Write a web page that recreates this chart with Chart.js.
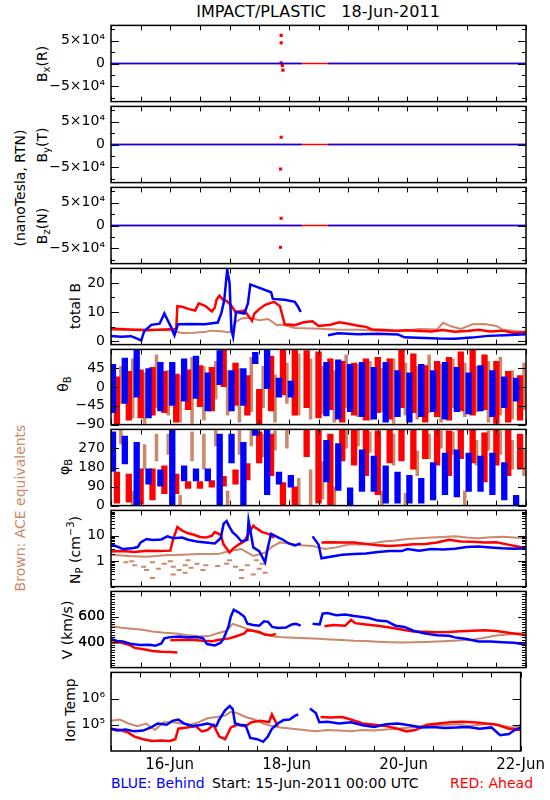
<!DOCTYPE html>
<html>
<head>
<meta charset="utf-8">
<script src="https://cdn.jsdelivr.net/npm/chart.js@4/dist/chart.umd.min.js"></script>
<style>
  body { margin: 0; background: #fff; }
  #page { position: relative; width: 550px; height: 800px; overflow: hidden; font-family: "DejaVu Sans", sans-serif; color: #000; }
  #page canvas { position: absolute; left: 0; }
  .txt { position: absolute; white-space: pre; font-size: 14px; line-height: 1; }
  .rot { position: absolute; white-space: pre; font-size: 14px; line-height: 1; transform: translate(-50%, -50%) rotate(-90deg); }
  sub, sup { font-size: 10px; line-height: 0; }
  sub { vertical-align: -3px; }
  sup { vertical-align: 6px; }
</style>
</head>
<body>
<div id="page">
  <div class="txt" style="left:318px; top:12px; font-size:16px; transform:translate(-50%,-50%)">IMPACT/PLASTIC   18-Jun-2011</div>
  <div class="rot" style="left:42px; top:64px">B<sub>x</sub>(R)</div>
  <div class="rot" style="left:42px; top:145px">B<sub>y</sub>(T)</div>
  <div class="rot" style="left:42px; top:226px">B<sub>z</sub>(N)</div>
  <div class="rot" style="left:20px; top:188px">(nanoTesla, RTN)</div>
  <div class="rot" style="left:75px; top:306px">total B</div>
  <div class="rot" style="left:63px; top:384px">θ<sub>B</sub></div>
  <div class="rot" style="left:64px; top:467px">φ<sub>B</sub></div>
  <div class="rot" style="left:75px; top:550px">N<sub>P</sub> (cm<sup>−3</sup>)</div>
  <div class="rot" style="left:67px; top:630px">V (km/s)</div>
  <div class="rot" style="left:70px; top:710px">Ion Temp</div>
  <div class="rot" style="left:20px; top:508px; color:#cc886c">Brown: ACE equivalents</div>
  <div class="txt" style="left:111px; top:776px; color:#0000ff">BLUE: Behind</div>
  <div class="txt" style="left:212px; top:776px">Start: 15-Jun-2011 00:00 UTC</div>
  <div class="txt" style="left:450px; top:776px; color:#ff0000">RED: Ahead</div>
</div>
<script>
const BLUE = '#0000ff';
const RED = '#ff0000';
const BROWN = '#cc886c';

// time axis: days since 15-Jun-2011 00:00 UTC
const xTickDays = [0, 0.5, 1, 1.5, 2, 2.5, 3, 3.5, 4, 4.5, 5, 5.5, 6, 6.5, 7];
const xLabelDays = [1, 3, 5, 7];
const xLabels = { 1: '16-Jun', 3: '18-Jun', 5: '20-Jun', 7: '22-Jun' };

// B components (nT)
const bTicks = [-75000, -50000, -25000, 0, 25000, 50000, 75000];
const bLabels = { '-50000': '−5×10⁴', '0': '0', '50000': '5×10⁴' };
const bBlue = [[0, 0], [3.22, 0], [3.23, null], [3.66, 0], [7, 0]];
const bRed = [[0, 0], [7, 0]];
const bxRedDots = [[2.87, 62000], [2.87, 45600], [2.87, 1500], [2.89, -4000], [2.9, -14500]];
const byRedDots = [[2.87, 16000], [2.86, -54000]];
const bzRedDots = [[2.87, 16000], [2.86, -48000]];

// total B (nT)
const totTicks = [0, 5, 10, 15, 20];
const totLabels = { 0: '0', 10: '10', 20: '20' };
const totBlue = [[0, 1.8], [0.17, 1.5], [0.34, 1.7], [0.45, 0.8], [0.51, 0.2], [0.56, 3.4], [0.68, 5.6], [0.82, 6.0], [0.9, 9.5], [0.96, 7.0], [1.01, 5.0], [1.07, 2.0], [1.13, 5.8], [1.35, 5.9], [1.58, 5.8], [1.8, 6.4], [1.86, 9.5], [1.91, 14], [1.96, 24.5], [2.0, 20], [2.03, 4], [2.06, 1.5], [2.11, 10], [2.25, 9.5], [2.31, 13], [2.35, 19.5], [2.48, 18.5], [2.7, 16.8], [2.73, 14.5], [2.93, 14.2], [3.1, 13.5], [3.15, 12], [3.2, 10], [3.22, null], [3.66, 2.0], [3.83, 2.7], [4.17, 2.4], [4.5, 2.5], [4.84, 2.3], [4.95, 1.3], [5.29, 1.1], [5.52, 0.9], [5.8, 0.8], [6.08, 1.2], [6.36, 1.8], [6.64, 2.0], [7.0, 2.4]];
const totRed = [[0, 4.3], [0.3, 4.0], [0.6, 3.7], [0.9, 4.0], [1.1, 4.2], [1.12, 12.0], [1.2, 11.8], [1.32, 11.0], [1.42, 10.5], [1.48, 13.0], [1.6, 12.0], [1.7, 10.2], [1.75, 11.5], [1.78, 14.2], [1.83, 15.6], [1.9, 14.0], [1.95, 13.8], [2.02, 12.5], [2.1, 10.0], [2.25, 10.5], [2.38, 7.0], [2.42, 9.5], [2.5, 11.0], [2.6, 12.5], [2.75, 13.5], [2.85, 12.0], [2.93, 5.8], [3.1, 5.5], [3.25, 6.5], [3.4, 6.8], [3.5, 5.2], [3.7, 5.6], [3.85, 6.5], [4.0, 6.0], [4.15, 5.4], [4.3, 4.9], [4.4, 4.0], [4.6, 3.8], [4.8, 3.6], [5.0, 3.7], [5.2, 3.5], [5.4, 3.3], [5.6, 3.8], [5.8, 3.2], [6.0, 3.5], [6.2, 3.9], [6.4, 3.3], [6.6, 3.6], [6.8, 2.8], [7.0, 3.2]];
const totBrown = [[0, 3.8], [0.5, 4.0], [1.0, 3.7], [1.2, 2.8], [1.4, 2.9], [1.6, 3.2], [1.7, 3.6], [1.9, 3.3], [2.0, 3.0], [2.1, 6.5], [2.2, 7.8], [2.35, 8.0], [2.5, 7.2], [2.65, 7.6], [2.8, 5.5], [2.9, 5.6], [3.1, 4.5], [3.4, 4.3], [3.8, 4.0], [4.2, 3.9], [4.5, 3.6], [4.9, 3.5], [5.2, 4.2], [5.5, 4.0], [5.6, 6.3], [5.75, 5.0], [5.9, 4.2], [6.1, 5.8], [6.3, 5.9], [6.5, 5.2], [6.6, 4.0], [6.8, 3.5], [7.0, 3.0]];

// angle panels, spread per 0.2-day bin [low, high]
const binDays = [0.1, 0.3, 0.5, 0.7, 0.9, 1.1, 1.3, 1.5, 1.7, 1.9, 2.1, 2.3, 2.5, 2.7, 2.9, 3.1, 3.3, 3.5, 3.7, 3.9, 4.1, 4.3, 4.5, 4.7, 4.9, 5.1, 5.3, 5.5, 5.7, 5.9, 6.1, 6.3, 6.5, 6.7, 6.9];
const thetaTicks = [-90, -45, 0, 45];
const thetaLabels = { '-90': '−90', '-45': '−45', '0': '0', '45': '45' };
const thetaBlue = [[-62, 55], [-40, 70], [-25, 90], [-75, 45], [-58, 60], [-45, 60], [-35, 68], [-28, 75], [-58, 35], [5, 88], [-58, 40], [-45, 45], [55, 84], [-5, 90], [-25, 22], [-25, 15], null, null, [-70, 60], [-78, 66], [-60, 55], [-72, 60], [-78, 48], [-85, 60], [-72, 40], [-85, 35], [-72, 55], [-60, 40], [-78, 60], [-60, 48], [-65, 35], [-58, 52], [-72, 40], [-50, 25], [-35, 22]];
const thetaRed = [[-90, 25], [-80, 38], [-75, 42], [-68, 48], [-62, 38], [-85, 32], [-55, 42], [-48, 52], [-58, 48], [0, 90], [-45, 58], [-68, 28], [-90, -5], [-58, 75], [-20, 90], [-68, 90], [-50, 88], [-75, 85], [-55, 68], [-85, 62], [-68, 58], [-80, 68], [-62, 72], [-78, 68], [-50, 90], [-62, 80], [-85, 52], [-72, 62], [-80, 72], [-58, 85], [-68, 90], [-55, 78], [-88, 62], [-85, 38], [-80, 28]];
const thetaBrown = [[-40, 50], [-75, 68], [-88, 35], [-50, 78], [-68, 40], [-85, 30], [-88, 72], [-80, 50], [-30, 62], [-68, 40], [-85, 45], [-60, 72], [-50, 50], [-85, 30], [-40, 58], [-68, 80], [-78, 68], [-65, 50], [-85, 40], [-50, 78], [-72, 55], [-80, 62], [-60, 45], [-88, 68], [-68, 58], [-78, 50], [-62, 78], [-85, 55], [-50, 68], [-72, 58], [-60, 50], [-85, 62], [-68, 72], [-78, 40], [-55, 58]];

const phiTicks = [0, 90, 180, 270];
const phiLabels = { 0: '0', 90: '90', 180: '180', 270: '270' };
const phiBlue = [[160, 350], [195, 330], [0, 300], [100, 175], [90, 170], [0, 360], [115, 190], [115, 175], [115, 175], [0, 340], [200, 340], [0, 300], [330, 360], [50, 360], [100, 160], [85, 145], null, null, [110, 310], [70, 295], [0, 85], [65, 265], [65, 235], [10, 190], [10, 160], [10, 145], [10, 130], [25, 205], [50, 250], [40, 265], [65, 250], [65, 235], [50, 250], [25, 205], [0, 50]];
const phiRed = [[10, 160], [15, 150], [5, 175], [25, 175], [55, 190], [55, 150], [80, 115], [80, 115], [85, 120], [90, 140], [100, 170], [120, 200], [200, 350], [140, 340], [0, 110], [0, 90], [230, 360], [10, 360], [0, 340], [210, 360], [190, 360], [140, 360], [50, 355], [200, 360], [210, 360], [170, 360], [220, 360], [190, 360], [140, 355], [220, 360], [200, 360], [110, 345], [190, 360], [140, 360], [170, 340]];
const phiBrown = [[290, 360], [0, 70], [170, 290], [210, 340], [240, 340], [0, 50], [210, 350], [170, 340], [280, 360], [0, 70], [240, 360], [280, 360], [230, 340], [260, 355], [270, 360], [0, 130], [0, 170], [30, 210], [0, 90], [270, 360], [280, 360], [250, 350], [0, 70], [190, 340], [0, 60], [140, 260], [220, 340], [270, 355], [240, 350], [0, 70], [190, 310], [260, 355], [240, 355], [170, 310], [140, 270]];

// proton density (cm^-3)
const npLabels = { 1: '1', 10: '10' };
const npBlue = [[0, 4.6], [0.1, 3.8], [0.2, 3.0], [0.35, 3.2], [0.45, 3.6], [0.5, 5.5], [0.6, 7.5], [0.7, 6.8], [0.85, 7.2], [0.95, 9.5], [1.05, 8.0], [1.2, 8.5], [1.3, 7.0], [1.45, 6.0], [1.6, 5.5], [1.75, 5.0], [1.85, 8.0], [1.9, 30], [1.95, 38], [2.0, 22], [2.05, 14], [2.12, 10], [2.2, 6.0], [2.3, 7.0], [2.32, 40], [2.36, 12], [2.4, 3.5], [2.5, 2.5], [2.55, 1.5], [2.6, 0.9], [2.64, 3.0], [2.7, 12], [2.8, 9.0], [2.9, 7.0], [3.0, 5.0], [3.1, 4.2], [3.2, 5.0], [3.22, null], [3.4, 9.5], [3.5, 4.5], [3.55, 1.3], [3.7, 1.5], [3.9, 1.8], [4.1, 1.9], [4.3, 2.0], [4.5, 2.3], [4.7, 2.5], [4.9, 2.5], [5.0, 3.0], [5.2, 2.6], [5.4, 3.0], [5.6, 2.9], [5.8, 3.1], [6.0, 3.6], [6.2, 3.8], [6.4, 3.5], [6.6, 3.2], [6.8, 3.1], [7.0, 3.2]];
const npRed = [[0, 2.4], [0.2, 2.5], [0.4, 2.3], [0.6, 2.6], [0.8, 2.5], [1.0, 2.6], [1.05, 7.5], [1.12, 22], [1.2, 16], [1.3, 12.5], [1.4, 11], [1.5, 9], [1.6, 8.5], [1.7, 10], [1.75, 14], [1.85, 11], [1.9, 4.5], [2.0, 2.2], [2.05, 3.0], [2.15, 4.5], [2.25, 6.0], [2.3, 10], [2.4, 25], [2.45, 20], [2.55, 14], [2.65, 12], [2.75, 8.5], [2.9, null], [3.55, 5.5], [3.7, 5.6], [3.9, 5.5], [4.1, 5.4], [4.3, 4.8], [4.5, 4.2], [4.7, 4.0], [4.9, 4.2], [5.1, 4.6], [5.3, 4.8], [5.5, 5.5], [5.7, 7.0], [5.9, 6.0], [6.1, 5.8], [6.3, 5.5], [6.5, 5.6], [6.7, 4.5], [6.9, 3.6], [7.0, 3.3]];
const npBrown = [[0, 1.8], [0.3, 1.6], [0.6, 1.5], [0.9, 1.7], [1.2, 1.8], [1.5, 1.9], [1.8, 1.9], [2.0, 2.5], [2.2, 3.0], [2.4, 1.6], [2.6, 2.2], [2.7, 3.5], [2.85, 5.5], [3.0, 5.0], [3.2, 4.2], [3.4, 4.0], [3.5, 3.5], [3.6, 3.0], [3.8, 3.5], [4.0, 4.5], [4.2, 4.5], [4.4, 5.0], [4.6, 6.0], [4.8, 6.5], [5.0, 7.5], [5.2, 8.0], [5.4, 8.5], [5.6, 9.0], [5.8, 9.5], [6.0, 8.5], [6.2, 8.0], [6.4, 8.8], [6.6, 9.2], [6.8, 8.5], [7.0, 8.0]];
const npBrownLow = [[0.25, 0.9], [0.4, 0.7], [0.55, 0.6], [0.7, 0.9], [0.8, 0.5], [0.6, 0.45], [0.9, 0.8], [1.05, 0.6], [1.15, 0.45], [1.25, 0.7], [1.35, 0.55], [1.45, 0.8], [1.55, 0.45], [1.6, 0.7], [1.25, 0.35], [0.7, 0.22], [1.05, 0.3], [1.95, 0.8], [2.1, 0.6], [2.2, 0.45], [2.3, 0.7], [2.4, 0.3], [2.2, 0.22], [2.5, 0.5], [2.55, 0.8], [2.6, 0.35], [1.8, 0.65], [0.35, 1.0], [1.0, 1.0], [1.3, 1.1], [2.0, 1.1], [2.45, 1.1]];

// bulk speed (km/s)
const vLabels = { 400: '400', 600: '600' };
const vBlue = [[0, 425], [0.1, 410], [0.2, 405], [0.35, 385], [0.5, 378], [0.65, 380], [0.75, 372], [0.85, 390], [0.9, 430], [1.0, 440], [1.15, 445], [1.3, 438], [1.45, 440], [1.55, 432], [1.62, 385], [1.75, 375], [1.85, 395], [1.9, 430], [1.98, 520], [2.02, 600], [2.07, 655], [2.15, 635], [2.25, 600], [2.3, 545], [2.4, 535], [2.5, 530], [2.58, 565], [2.65, 560], [2.72, 520], [2.82, 512], [2.95, 515], [3.05, 540], [3.12, 545], [3.2, 530], [3.22, null], [3.4, 545], [3.52, 540], [3.57, 625], [3.65, 630], [3.8, 612], [3.95, 618], [4.1, 606], [4.2, 600], [4.35, 590], [4.5, 570], [4.65, 565], [4.8, 530], [4.95, 520], [5.1, 490], [5.3, 468], [5.5, 455], [5.7, 450], [5.8, 438], [6.0, 425], [6.2, 405], [6.4, 405], [6.6, 400], [6.8, 395], [7.0, 380]];
const vRedEarly = [[0, 395], [0.15, 400], [0.3, 380], [0.4, 355], [0.55, 345], [0.7, 330], [0.85, 325], [1.0, 322], [1.12, 318]];
const vRed = [[1.0, 415], [1.2, 420], [1.4, 418], [1.55, 412], [1.7, 408], [1.85, 422], [2.0, 430], [2.1, 445], [2.25, 470], [2.3, 495], [2.4, 490], [2.5, 480], [2.6, 460], [2.7, 455], [2.78, 465], [2.82, null], [3.6, 525], [3.75, 535], [3.95, 530], [4.05, 575], [4.12, 550], [4.3, 540], [4.5, 530], [4.7, 515], [4.9, 500], [5.1, 485], [5.3, 482], [5.5, 478], [5.7, 480], [5.9, 486], [6.1, 490], [6.3, 495], [6.5, 488], [6.7, 475], [6.9, 462], [7.0, 455]];
const vBrown = [[0, 525], [0.15, 515], [0.3, 508], [0.5, 500], [0.7, 485], [0.9, 475], [1.1, 468], [1.3, 455], [1.5, 445], [1.65, 448], [1.8, 470], [1.95, 490], [2.05, 545], [2.15, 530], [2.3, 505], [2.45, 480], [2.6, 460], [2.75, 445], [2.9, 438], [3.1, 435], [3.3, 432], [3.5, 428], [3.7, 422], [3.9, 418], [4.1, 412], [4.3, 410], [4.5, 404], [4.7, 400], [4.9, 398], [5.1, 400], [5.3, 402], [5.5, 405], [5.7, 410], [5.9, 415], [6.1, 420], [6.3, 435], [6.5, 452], [6.7, 460], [6.9, 468], [7.0, 470]];

// ion temperature, stored as log10(K)
const tempTicks = [1e5, 1e6];
const tempLabels = { 100000: '10⁵', 1000000: '10⁶' };
const tempLogBlue = [[0, 4.85], [0.1, 4.78], [0.25, 4.82], [0.4, 4.75], [0.55, 4.78], [0.7, 4.92], [0.8, 5.05], [0.95, 5.0], [1.05, 5.15], [1.15, 5.2], [1.25, 5.05], [1.4, 4.95], [1.55, 5.0], [1.65, 5.05], [1.8, 4.95], [1.85, 5.2], [1.95, 5.55], [2.03, 5.72], [2.08, 5.6], [2.12, 5.05], [2.2, 5.0], [2.3, 4.98], [2.38, 4.5], [2.5, 4.45], [2.6, 4.35], [2.68, 4.55], [2.75, 4.85], [2.85, 5.05], [2.95, 5.18], [3.05, 5.2], [3.15, 5.35], [3.2, 5.4], [3.22, null], [3.4, 5.62], [3.5, 5.45], [3.56, 5.1], [3.7, 5.12], [3.9, 5.05], [4.1, 5.1], [4.3, 4.98], [4.5, 4.92], [4.7, 5.02], [4.9, 5.05], [5.1, 4.98], [5.3, 4.9], [5.5, 4.92], [5.7, 4.88], [5.9, 4.9], [6.1, 4.92], [6.3, 4.85], [6.5, 4.9], [6.65, 4.6], [6.8, 4.65], [6.9, 4.8], [7.0, 4.9]];
const tempLogRed = [[0, 4.85], [0.15, 4.8], [0.3, 4.7], [0.4, 4.55], [0.55, 4.45], [0.7, 4.38], [0.85, 4.4], [1.0, 4.38], [1.1, 4.45], [1.15, 4.85], [1.3, 4.9], [1.45, 4.95], [1.55, 4.75], [1.65, 4.8], [1.75, 5.0], [1.85, 4.55], [1.95, 4.45], [2.05, 4.9], [2.15, 5.0], [2.3, 4.95], [2.4, 5.1], [2.55, 5.15], [2.7, 5.1], [2.75, 5.4], [2.85, 4.95], [2.9, null], [3.58, 5.3], [3.75, 5.28], [3.95, 5.3], [4.1, 5.2], [4.3, 5.05], [4.5, 5.0], [4.7, 4.95], [4.9, 4.85], [5.05, 4.75], [5.2, 4.8], [5.4, 5.0], [5.6, 5.05], [5.8, 5.1], [6.0, 5.12], [6.2, 5.1], [6.4, 5.05], [6.6, 5.0], [6.8, 4.85], [7.0, 4.8]];
const tempLogBrown = [[0, 5.15], [0.15, 5.2], [0.3, 5.05], [0.45, 4.95], [0.6, 5.05], [0.75, 4.8], [0.9, 5.1], [1.05, 5.1], [1.2, 5.05], [1.35, 5.0], [1.5, 5.1], [1.65, 5.25], [1.8, 5.3], [1.95, 5.35], [2.05, 5.5], [2.15, 5.45], [2.3, 5.3], [2.45, 5.2], [2.6, 5.05], [2.75, 4.95], [2.9, 4.9], [3.1, 4.85], [3.3, 4.8], [3.5, 4.75], [3.7, 4.8], [3.9, 4.78], [4.1, 4.75], [4.3, 4.8], [4.5, 4.78], [4.7, 4.82], [4.9, 4.85], [5.1, 4.9], [5.3, 4.95], [5.5, 5.0], [5.7, 4.98], [5.9, 5.02], [6.1, 4.95], [6.3, 5.0], [6.5, 5.05], [6.7, 4.95], [6.9, 4.9], [7.0, 5.0]];

// tick positions on log / dense axes
const npTicks = [];
[0.1, 1, 10].forEach(dec => { for (let k = 1; k <= 9; k++) npTicks.push(+(dec * k).toPrecision(2)); });
const vTicks = [];
for (let v = 220; v <= 780; v += 20) vTicks.push(v);

Chart.defaults.font.family = '"DejaVu Sans", sans-serif';
Chart.defaults.font.size = 14;
Chart.defaults.color = '#000';

const PAD = 12;
const panelTops = [23, 104, 185, 266, 347, 427, 508, 589, 670];
const panelBottoms = [104, 185, 266, 347, 427, 508, 589, 670, 751];

function line(points, color, width = 2.5) {
  return {
    type: 'line',
    data: points.map(([x, y]) => ({ x, y })),
    borderColor: color,
    backgroundColor: color,
    borderWidth: width,
    pointRadius: 0,
    tension: 0,
    spanGaps: false,
  };
}

function logLine(points, color, width) {
  return line(points.map(([x, y]) => [x, y == null ? null : 10 ** y]), color, width);
}

function dots(points, color, style = 'rect', radius = 1.2, width = 1.5) {
  return {
    type: 'line',
    data: points.map(([x, y]) => ({ x, y })),
    showLine: false,
    borderColor: color,
    backgroundColor: color,
    pointStyle: style,
    pointRadius: radius,
    borderWidth: width,
  };
}

function bars(ranges, color, widthShare = 1.6) {
  return {
    type: 'bar',
    data: binDays.map((x, i) => ({ x, y: ranges[i] })),
    backgroundColor: color,
    borderWidth: 0,
    barPercentage: widthShare,
    categoryPercentage: 1,
  };
}

const idlFrame = {
  id: 'idlFrame',
  afterDraw(chart, args, opts) {
    const { ctx, chartArea: a, scales: { x, y } } = chart;
    ctx.save();
    ctx.strokeStyle = '#000';
    ctx.lineWidth = 1;
    ctx.beginPath();
    xTickDays.forEach(d => {
      const px = Math.round(x.getPixelForValue(d)) + 0.5;
      ctx.moveTo(px, a.top); ctx.lineTo(px, a.top + 5);
      ctx.moveTo(px, a.bottom); ctx.lineTo(px, a.bottom - 5);
    });
    opts.ticks.forEach(v => {
      const py = Math.round(y.getPixelForValue(v)) + 0.5;
      const len = opts.labels[v] != null ? 8 : 4;
      ctx.moveTo(a.left, py); ctx.lineTo(a.left + len, py);
      ctx.moveTo(a.right, py); ctx.lineTo(a.right - len, py);
    });
    ctx.stroke();
    ctx.lineWidth = 1.5;
    ctx.strokeRect(a.left, a.top, a.right - a.left, a.bottom - a.top);
    ctx.restore();
  },
};

const panels = [
  { min: -84000, max: 84000, ticks: bTicks, labels: bLabels,
    datasets: [line(bBlue, BLUE, 1.5), dots(bxRedDots, RED), line(bRed, RED, 1.5)] },
  { min: -84000, max: 84000, ticks: bTicks, labels: bLabels,
    datasets: [line(bBlue, BLUE, 1.5), dots(byRedDots, RED), line(bRed, RED, 1.5)] },
  { min: -84000, max: 84000, ticks: bTicks, labels: bLabels,
    datasets: [line(bBlue, BLUE, 1.5), dots(bzRedDots, RED), line(bRed, RED, 1.5)] },
  { min: -1.2, max: 25, ticks: totTicks, labels: totLabels,
    datasets: [line(totBlue, BLUE), line(totRed, RED), line(totBrown, BROWN, 2)] },
  { type: 'bar', min: -90, max: 90, ticks: thetaTicks, labels: thetaLabels,
    datasets: [bars(thetaBlue, BLUE), bars(thetaRed, RED), bars(thetaBrown, BROWN, 0.9)] },
  { type: 'bar', min: 0, max: 360, ticks: phiTicks, labels: phiLabels,
    datasets: [bars(phiBlue, BLUE), bars(phiRed, RED), bars(phiBrown, BROWN, 0.9)] },
  { yType: 'logarithmic', min: 0.1, max: 100, ticks: npTicks, labels: npLabels,
    datasets: [line(npBlue, BLUE), line(npRed, RED), line(npBrown, BROWN, 2), dots(npBrownLow, BROWN, 'line', 2.5, 2)] },
  { min: 200, max: 800, ticks: vTicks.concat([400, 600]), labels: vLabels,
    datasets: [line(vBlue, BLUE), line(vRed, RED), line(vRedEarly, RED), line(vBrown, BROWN, 2)] },
  { yType: 'logarithmic', min: 1e4, max: 1e7, ticks: tempTicks, labels: tempLabels,
    datasets: [logLine(tempLogBlue, BLUE), logLine(tempLogRed, RED), logLine(tempLogBrown, BROWN, 2)] },
];

const page = document.getElementById('page');

panels.forEach((cfg, i) => {
  const last = i === panels.length - 1;
  const canvas = document.createElement('canvas');
  canvas.width = 550;
  canvas.height = panelBottoms[i] - panelTops[i] + PAD + (last ? 28 : PAD);
  canvas.style.top = (panelTops[i] - PAD) + 'px';
  page.appendChild(canvas);

  new Chart(canvas, {
    type: cfg.type || 'line',
    data: { datasets: cfg.datasets },
    options: {
      responsive: false,
      animation: false,
      devicePixelRatio: 1,
      layout: { padding: { left: 0, right: 24, top: PAD, bottom: last ? 0 : PAD } },
      plugins: {
        legend: { display: false },
        tooltip: { enabled: false },
        idlFrame: { ticks: cfg.ticks, labels: cfg.labels },
      },
      scales: {
        x: {
          type: 'linear',
          min: 0,
          max: 7,
          offset: false,
          display: last,
          grid: { display: false, drawTicks: false, tickLength: 0 },
          border: { display: false },
          afterBuildTicks: s => { s.ticks = xLabelDays.map(value => ({ value })); },
          afterFit: s => { if (last) s.height = 28; },
          ticks: { autoSkip: false, maxRotation: 0, padding: 5, font: { size: 15 }, callback: v => xLabels[v] ?? '' },
        },
        y: {
          type: cfg.yType || 'linear',
          min: cfg.min,
          max: cfg.max,
          grid: { display: false, drawTicks: false, tickLength: 0 },
          border: { display: false },
          afterFit: s => { s.width = 111; },
          afterBuildTicks: s => { s.ticks = cfg.ticks.map(value => ({ value })); },
          ticks: { autoSkip: false, padding: 6, callback: v => cfg.labels[v] ?? '' },
        },
      },
    },
    plugins: [idlFrame],
  });
});
</script>
</body>
</html>
